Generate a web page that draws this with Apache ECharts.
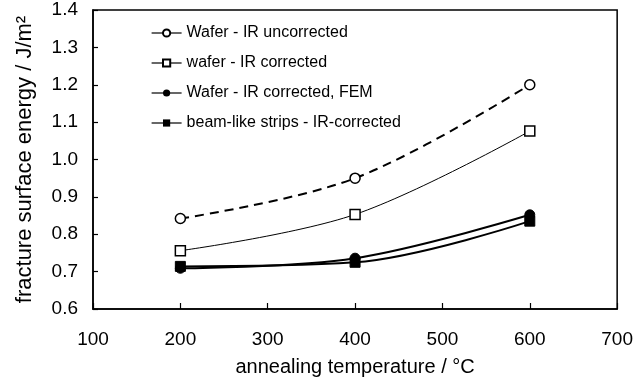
<!DOCTYPE html>
<html>
<head>
<meta charset="utf-8">
<script src="https://cdn.jsdelivr.net/npm/echarts@6/dist/echarts.min.js"></script>
<style>
html, body { margin: 0; padding: 0; background: #fff; }
#chart { width: 636px; height: 383px; }
</style>
</head>
<body>
<div id="chart"></div>
<script>
// annealing temperatures (°C)
var temps = [200, 400, 600];
// fracture surface energy (J/m2)
var irUncorrected = [0.842, 0.950, 1.200];
var irCorrected = [0.756, 0.853, 1.076];
var irCorrectedFem = [0.709, 0.736, 0.852];
var beamStrips = [0.714, 0.725, 0.835];

var seriesNames = [
	'Wafer - IR uncorrected',
	'wafer - IR corrected',
	'Wafer - IR corrected, FEM',
	'beam-like strips - IR-corrected'
];

function pairs(vals) {
	return temps.map(function (t, i) { return [t, vals[i]]; });
}

var font = 'Liberation Sans, Arial, sans-serif';

var chart = echarts.init(document.getElementById('chart'));
chart.setOption({
	animation: false,
	backgroundColor: '#fff',
	grid: {
		left: 93, right: 17, top: 10, bottom: 74,
		show: true, borderColor: '#000', borderWidth: 1.5
	},
	legend: {
		orient: 'vertical',
		left: 146, top: 20,
		itemWidth: 30, itemHeight: 9, itemGap: 14,
		textStyle: { fontFamily: font, fontSize: 16, color: '#000' },
		data: seriesNames.map(function (n) {
			return { name: n, lineStyle: { type: 'solid', width: 1.2 } };
		})
	},
	xAxis: {
		type: 'value', min: 100, max: 700, interval: 100,
		name: 'annealing temperature / °C',
		nameLocation: 'middle', nameGap: 48,
		nameTextStyle: { fontFamily: font, fontSize: 20, color: '#000' },
		axisLine: { lineStyle: { color: '#000', width: 1.5 } },
		axisTick: { inside: true, length: 6, lineStyle: { color: '#000', width: 1.2 } },
		axisLabel: { fontFamily: font, fontSize: 19, color: '#000', margin: 21 },
		splitLine: { show: false }
	},
	yAxis: {
		type: 'value', min: 0.6, max: 1.4, interval: 0.1,
		name: 'fracture surface energy / J/m²',
		nameLocation: 'middle', nameGap: 57,
		nameTextStyle: { fontFamily: font, fontSize: 22, color: '#000' },
		axisLine: { lineStyle: { color: '#000', width: 1.5 } },
		axisTick: { inside: true, length: 5, lineStyle: { color: '#000', width: 1.2 } },
		axisLabel: {
			fontFamily: font, fontSize: 19, color: '#000', margin: 15,
			formatter: function (v) { return v.toFixed(1); }
		},
		splitLine: { show: false }
	},
	series: [
		{
			name: seriesNames[0], type: 'line', smooth: 0.35,
			data: pairs(irUncorrected),
			symbol: 'circle', symbolSize: 10,
			itemStyle: { color: '#fff', borderColor: '#000', borderWidth: 1.5 },
			lineStyle: { color: '#000', width: 2, type: [9, 6] }
		},
		{
			name: seriesNames[1], type: 'line', smooth: 0.35,
			data: pairs(irCorrected),
			symbol: 'rect', symbolSize: 10,
			itemStyle: { color: '#fff', borderColor: '#000', borderWidth: 1.5 },
			lineStyle: { color: '#000', width: 1 }
		},
		{
			name: seriesNames[2], type: 'line', smooth: 0.35,
			data: pairs(irCorrectedFem),
			symbol: 'circle', symbolSize: 10,
			itemStyle: { color: '#000', borderColor: '#000' },
			lineStyle: { color: '#000', width: 2 }
		},
		{
			name: seriesNames[3], type: 'line', smooth: 0.35,
			data: pairs(beamStrips),
			symbol: 'rect', symbolSize: 10,
			itemStyle: { color: '#000', borderColor: '#000' },
			lineStyle: { color: '#000', width: 2 }
		}
	]
});
</script>
</body>
</html>
